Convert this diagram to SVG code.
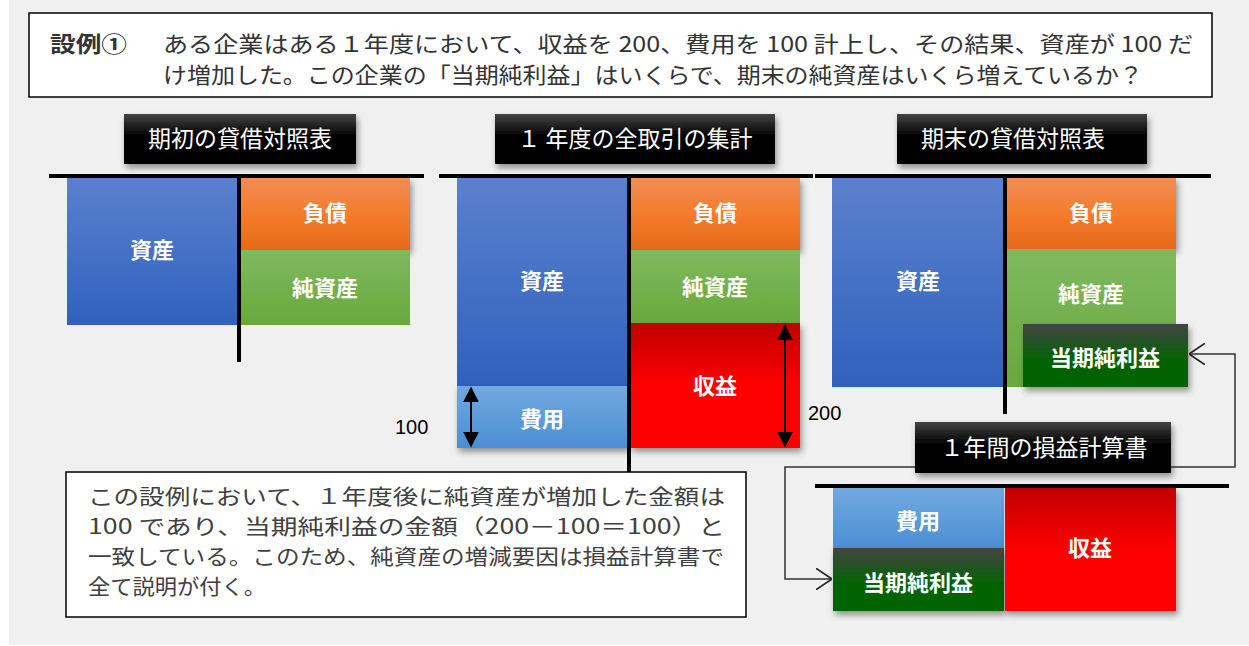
<svg xmlns="http://www.w3.org/2000/svg" width="1249" height="646" viewBox="0 0 1249 646">
<defs>
<linearGradient id="gBlue" x1="0" y1="0" x2="0" y2="1"><stop offset="0" stop-color="#5b80cd"/><stop offset="1" stop-color="#2f62bd"/></linearGradient>
<linearGradient id="gOrange" x1="0" y1="0" x2="0" y2="1"><stop offset="0" stop-color="#f08d56"/><stop offset="0.5" stop-color="#f47c2c"/><stop offset="1" stop-color="#e4691a"/></linearGradient>
<linearGradient id="gGreen" x1="0" y1="0" x2="0" y2="1"><stop offset="0" stop-color="#80b960"/><stop offset="1" stop-color="#68a83c"/></linearGradient>
<linearGradient id="gRed" x1="0" y1="0" x2="0" y2="1"><stop offset="0" stop-color="#c00000"/><stop offset="0.5" stop-color="#ff0000"/><stop offset="1" stop-color="#ff0000"/></linearGradient>
<linearGradient id="gLight" x1="0" y1="0" x2="0" y2="1"><stop offset="0" stop-color="#72a9e0"/><stop offset="1" stop-color="#4a8fd3"/></linearGradient>
<linearGradient id="gDark" x1="0" y1="0" x2="0" y2="1"><stop offset="0" stop-color="#444444"/><stop offset="0.6" stop-color="#006400"/><stop offset="1" stop-color="#006400"/></linearGradient>
<linearGradient id="gBlack" x1="0" y1="0" x2="0" y2="1"><stop offset="0" stop-color="#444444"/><stop offset="0.45" stop-color="#000000"/><stop offset="1" stop-color="#000000"/></linearGradient>
<filter id="sh" x="-10%" y="-10%" width="125%" height="130%"><feDropShadow dx="2" dy="4" stdDeviation="3" flood-color="#000" flood-opacity="0.4"/></filter>
<marker id="tri" viewBox="0 0 10 10" refX="9" refY="5" markerWidth="16" markerHeight="16" markerUnits="userSpaceOnUse" orient="auto-start-reverse"><path d="M0,0 L10,5 L0,10 Z" fill="#000"/></marker>
<marker id="open" viewBox="0 0 12 16" refX="12" refY="8" markerWidth="16" markerHeight="22" markerUnits="userSpaceOnUse" orient="auto"><path d="M0,0 L12,8 L0,16" fill="none" stroke="#222" stroke-width="1.3"/></marker>
<style>
.lbl{font-family:"Noto Sans CJK JP","Noto Sans",sans-serif;font-weight:bold;font-size:22px;fill:#fff;text-anchor:middle}
.ttl{font-family:"Noto Sans CJK JP","Noto Sans",sans-serif;font-size:23px;fill:#fff;text-anchor:middle}
.q{font-family:"Noto Sans CJK JP","Noto Sans",sans-serif;font-size:22px;fill:#333}
.ex{font-family:"Noto Sans CJK JP","Noto Sans",sans-serif;font-size:21px;fill:#404040}
.num{font-family:"Liberation Sans",Arial,sans-serif;font-size:20px;fill:#000}
.axis{stroke:#000;stroke-width:4;fill:none}
.box{fill:#fff;stroke:#000;stroke-width:1.5}
</style>
</defs>
<rect x="0" y="0" width="1249" height="646" fill="#fff"/>
<rect x="9" y="0" width="1240" height="645" fill="#f0f0f0"/>

<g id="question">
<rect class="box" x="29" y="13" width="1183" height="84"/>
<text class="q" x="50" y="52" font-weight="bold" textLength="77" lengthAdjust="spacingAndGlyphs">設例①</text>
<text class="q" x="163" y="52" textLength="1030" lengthAdjust="spacingAndGlyphs">ある企業はある１年度において、収益を 200、費用を 100 計上し、その結果、資産が 100 だ</text>
<text class="q" x="163" y="83" textLength="980" lengthAdjust="spacingAndGlyphs">け増加した。この企業の「当期純利益」はいくらで、期末の純資産はいくら増えているか？</text>
</g>

<g id="bs-begin">
<rect x="124" y="114" width="232" height="50" fill="url(#gBlack)" filter="url(#sh)"/>
<text class="ttl" x="240" y="147">期初の貸借対照表</text>
<rect x="67" y="178" width="172" height="147" fill="url(#gBlue)"/>
<rect x="241" y="178" width="169" height="72" fill="url(#gOrange)" filter="url(#sh)"/>
<rect x="241" y="250" width="169" height="75" fill="url(#gGreen)"/>
<text class="lbl" x="152" y="258">資産</text>
<text class="lbl" x="325" y="221">負債</text>
<text class="lbl" x="325" y="296">純資産</text>
<path class="axis" d="M49,176 H424 M239,176 V362"/>
</g>

<g id="all-transactions">
<rect x="495" y="114" width="280" height="50" fill="url(#gBlack)" filter="url(#sh)"/>
<text class="ttl" x="635" y="147">１ 年度の全取引の集計</text>
<rect x="457" y="178" width="171" height="208" fill="url(#gBlue)"/>
<rect x="457" y="386" width="171" height="62" fill="url(#gLight)" filter="url(#sh)"/>
<rect x="631" y="178" width="169" height="72" fill="url(#gOrange)" filter="url(#sh)"/>
<rect x="631" y="250" width="169" height="73" fill="url(#gGreen)"/>
<rect x="631" y="323" width="169" height="125" fill="url(#gRed)" filter="url(#sh)"/>
<text class="lbl" x="542" y="289">資産</text>
<text class="lbl" x="542" y="427">費用</text>
<text class="lbl" x="715" y="221">負債</text>
<text class="lbl" x="715" y="295">純資産</text>
<text class="lbl" x="715" y="394">収益</text>
<text class="num" x="395" y="434">100</text>
<text class="num" x="808" y="420">200</text>
<path class="axis" d="M439,176 H813 M629,176 V472"/>
</g>

<g id="bs-end">
<rect x="897" y="114" width="250" height="50" fill="url(#gBlack)" filter="url(#sh)"/>
<text class="ttl" x="1013" y="147">期末の貸借対照表</text>
<rect x="832" y="178" width="171" height="209" fill="url(#gBlue)"/>
<rect x="1007" y="178" width="169" height="71" fill="url(#gOrange)" filter="url(#sh)"/>
<rect x="1007" y="249" width="169" height="138" fill="url(#gGreen)"/>
<text class="lbl" x="918" y="289">資産</text>
<text class="lbl" x="1091" y="221">負債</text>
<text class="lbl" x="1091" y="302">純資産</text>
<path class="axis" d="M815,176 H1211 M1005,176 V414"/>
</g>

<g id="net-income-bs">
<rect x="1023" y="324" width="165" height="63" fill="url(#gDark)" filter="url(#sh)"/>
<text class="lbl" x="1105" y="366">当期純利益</text>
</g>

<g id="pl">
<rect x="915" y="422" width="256" height="51" fill="url(#gBlack)" filter="url(#sh)"/>
<text class="ttl" x="1044" y="456">１年間の損益計算書</text>
<rect x="833" y="488" width="171" height="60" fill="url(#gLight)"/>
<rect x="833" y="548" width="171" height="63" fill="url(#gDark)" filter="url(#sh)"/>
<rect x="1005" y="488" width="171" height="123" fill="url(#gRed)" filter="url(#sh)"/>
<text class="lbl" x="918" y="529">費用</text>
<text class="lbl" x="918" y="591">当期純利益</text>
<text class="lbl" x="1090" y="556">収益</text>
<path class="axis" d="M815,486 H1229"/>
</g>

<g id="explanation">
<rect class="box" x="66" y="472" width="680" height="145"/>
<text class="ex" x="88" y="504" textLength="637" lengthAdjust="spacingAndGlyphs">この設例において、１年度後に純資産が増加した金額は</text>
<text class="ex" x="88" y="534" textLength="637" lengthAdjust="spacingAndGlyphs">100 であり、当期純利益の金額（200－100＝100）と</text>
<text class="ex" x="88" y="564" textLength="636" lengthAdjust="spacingAndGlyphs">一致している。このため、純資産の増減要因は損益計算書で</text>
<text class="ex" x="88" y="594" textLength="178" lengthAdjust="spacingAndGlyphs">全て説明が付く。</text>
</g>

<g id="connectors">
<path d="M471,388 V446" stroke="#000" stroke-width="2" marker-start="url(#tri)" marker-end="url(#tri)"/>
<path d="M785,326 V446" stroke="#000" stroke-width="2" marker-start="url(#tri)" marker-end="url(#tri)"/>
<path d="M1171,467 H1235 V354 H1189" fill="none" stroke="#333" stroke-width="1.5" marker-end="url(#open)"/>
<path d="M915,467 H785 V579 H832" fill="none" stroke="#333" stroke-width="1.5" marker-end="url(#open)"/>
</g>
</svg>
